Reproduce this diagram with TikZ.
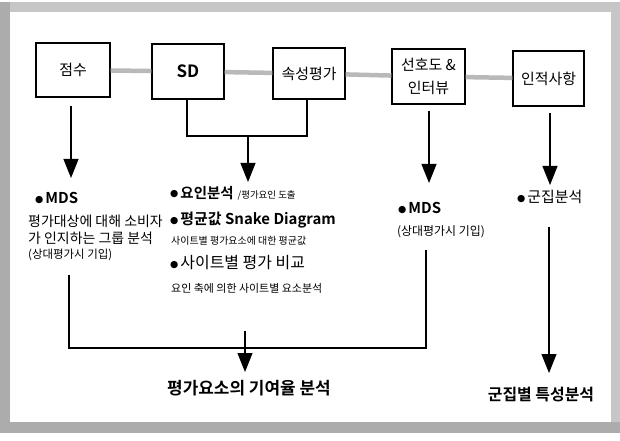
\documentclass[tikz,border=0pt]{standalone}
\usepackage{fontspec}
\setmainfont{Noto Sans CJK KR}[BoldFont={Noto Sans CJK KR Bold}]
\newfontfamily\dv{DejaVu Sans}
\usetikzlibrary{arrows.meta}
\newcommand\fsz[1]{\fontsize{#1}{#1}\selectfont}
\newcommand\bul{{\dv\fsz{9.5}\raisebox{1.2bp}{●}}\hspace{2bp}}
\begin{document}
\begin{tikzpicture}[x=1bp,y=-1bp,
  box/.style={draw, line width=1.1bp, inner sep=0pt, align=center, font=\fsz{15}},
  link/.style={draw=gray!55, line width=4.5bp},
  ln/.style={line width=1.1bp},
  arr/.style={line width=1.1bp, -{Triangle[width=15bp,length=19bp]}},
  txt/.style={inner sep=0pt, anchor=west}]
\useasboundingbox (0,0) rectangle (620,441);
\fill[white] (0,0) rectangle (620,441);
% frame
\fill[gray!45] (0,2) rectangle (620,12);
\fill[gray!45] (611,2) rectangle (620,433);
\fill[gray!65] (0,2) rectangle (10,433);
\fill[gray!65] (0,422) rectangle (620,433);
% boxes
\node[box, minimum width=74bp, minimum height=54bp] (s) at (73,70) {점수};
\node[box, minimum width=72bp, minimum height=55bp, font=\fsz{17}\bfseries] (sd) at (188,71.5) {SD};
\node[box, minimum width=72bp, minimum height=51bp] (at) at (309,73.5) {속성평가};
\node[box, minimum width=73bp, minimum height=55bp] (pr) at (428.5,76.5) {선호도 \&\\[8bp]인터뷰};
\node[box, minimum width=71bp, minimum height=55bp] (ps) at (548.5,78.5) {인적사항};
% gray links
\draw[link] (s) -- (sd);
\draw[link] (sd) -- (at);
\draw[link] (at) -- (pr);
\draw[link] (pr) -- (ps);
% arrows from boxes
\coordinate (t1) at (71,178);
\draw[arr, shorten <=8bp] (s.south -| t1) -- (t1);
\coordinate (ja) at (187,136);
\coordinate (jb) at (307,136);
\coordinate (j) at (248,136);
\coordinate (t2) at (248,182);
\draw[ln] (sd.south -| ja) -- (ja) -- (jb) -- (at.south -| jb);
\draw[arr] (j) -- (t2);
\coordinate (t3) at (429,183);
\draw[arr, shorten <=6bp] (pr.south -| t3) -- (t3);
\coordinate (t4) at (550,185);
\draw[arr, shorten <=6bp] (ps.south -| t4) -- (t4);
% left column
\node[txt] (mds1) at (35,198) {\bul{\fsz{15}\bfseries MDS}};
\node[txt, font=\fsz{14}] (l1) at (28,221) {평가대상에 대해 소비자};
\node[txt, font=\fsz{14}] (l2) at (28,238) {가 인지하는 그룹 분석};
\node[txt, font=\fsz{11.5}] (l3) at (28,255) {(상대평가시 기입)};
% middle column
\node[txt] (m1) at (170,193) {\bul{\fsz{14.5}\bfseries 요인분석}\hspace{4bp}{\fsz{9.5}/평가요인 도출}};
\node[txt] (m2) at (170,220) {\bul{\fsz{15}\bfseries 평균값 Snake Diagram}};
\node[txt, font=\fsz{10}] (m3) at (171,241) {사이트별 평가요소에 대한 평균값};
\node[txt] (m4) at (170,263) {\bul{\fsz{16}사이트별 평가 비교}};
\node[txt, font=\fsz{11}] (m5) at (171,288) {요인 축에 의한 사이트별 요소분석};
% right columns
\node[txt] (mds2) at (398,208) {\bul{\fsz{15}\bfseries MDS}};
\node[txt, font=\fsz{12}] (r2) at (397,232) {(상대평가시 기입)};
\node[txt] (g1) at (517,197) {\bul{\fsz{15}군집분석}};
% bottom bracket
\coordinate (bl) at (69,275);
\coordinate (bla) at (69,348);
\coordinate (bra) at (426,348);
\coordinate (br) at (426,250);
\draw[ln] (bl) -- (bla) -- (bra) -- (br);
\coordinate (mt) at (245,331);
\coordinate (t5) at (245,372);
\draw[arr] (mt) -- (t5);
\node[inner sep=0pt, font=\fsz{17}\bfseries] (b1) at (249,388) {평가요소의 기여율 분석};
\coordinate (gt) at (549,227);
\coordinate (t6) at (549,373);
\draw[arr] (gt) -- (t6);
\node[inner sep=0pt, font=\fsz{16}\bfseries] (b2) at (541,395) {군집별 특성분석};
\end{tikzpicture}
\end{document}
